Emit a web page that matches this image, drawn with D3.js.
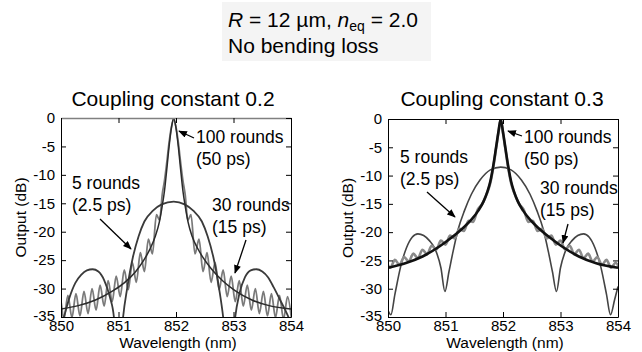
<!DOCTYPE html>
<html><head><meta charset="utf-8">
<script src="https://cdn.jsdelivr.net/npm/d3@7"></script>
<style>
html,body{margin:0;padding:0;background:#fff;}
svg{display:block;font-family:"Liberation Sans",Arial,Helvetica,sans-serif;}
</style></head>
<body><svg id="c" width="642" height="352"></svg>
<script>
// ---------- data ----------
const wavelengthTicks = [850, 851, 852, 853, 854];
const outputTicks = [0, -5, -10, -15, -20, -25, -30, -35];
const panelTitles = ["Coupling constant 0.2", "Coupling constant 0.3"];

// Coupling constant 0.2 : [wavelength nm, output dB]
const left5 = [[850.00,-36.5],[850.05,-35.0],[850.15,-31.5],[850.25,-29.0],[850.35,-27.6],[850.45,-26.8],[850.55,-26.6],[850.65,-27.0],[850.75,-28.5],[850.85,-31.5],[850.92,-35.0],[850.99,-48],[851.08,-35.0],[851.15,-30.0],[851.25,-24.5],[851.35,-20.8],[851.45,-18.2],[851.60,-16.3],[851.75,-15.2],[851.96,-14.7],[852.15,-15.2],[852.30,-16.3],[852.45,-18.2],[852.55,-20.8],[852.65,-24.5],[852.75,-30.0],[852.82,-35.0],[852.93,-48],[853.03,-35.0],[853.10,-31.0],[853.20,-28.0],[853.30,-26.8],[853.40,-26.6],[853.50,-27.0],[853.60,-28.0],[853.70,-29.8],[853.80,-31.8],[853.90,-33.8],[854.00,-36.0]];
const left30 = [[849.91,-35.5],[849.98,-31.4],[850.05,-35.4],[850.12,-31.2],[850.19,-35.1],[850.26,-30.9],[850.33,-34.8],[850.40,-30.5],[850.47,-34.4],[850.54,-30.0],[850.61,-33.8],[850.68,-29.4],[850.75,-33.1],[850.82,-28.6],[850.89,-32.3],[850.96,-27.8],[851.03,-31.4],[851.10,-26.7],[851.17,-30.2],[851.24,-25.4],[851.31,-28.9],[851.38,-23.7],[851.45,-27.0],[851.52,-21.3],[851.59,-23.9],[851.66,-17.0],[851.715,-18.0],[851.76,-13.5],[851.80,-11.0],[851.84,-7.8],[851.88,-4.3],[851.92,-1.6],[851.96,-0.3],[852.00,-1.6],[852.04,-4.3],[852.08,-7.8],[852.12,-11.0],[852.16,-13.5],[852.205,-18.0],[852.26,-17.0],[852.33,-23.9],[852.40,-21.3],[852.47,-27.0],[852.54,-23.7],[852.61,-28.9],[852.68,-25.4],[852.75,-30.2],[852.82,-26.7],[852.89,-31.4],[852.96,-27.8],[853.03,-32.3],[853.10,-28.6],[853.17,-33.1],[853.24,-29.4],[853.31,-33.8],[853.38,-30.0],[853.45,-34.4],[853.52,-30.5],[853.59,-34.8],[853.66,-30.9],[853.73,-35.1],[853.80,-31.2],[853.87,-35.4],[853.94,-31.4],[854.01,-35.5]];
const left100 = [[850.00,-33.6],[850.30,-33.0],[850.60,-32.0],[850.90,-30.4],[851.10,-29.0],[851.30,-27.0],[851.44,-25.0],[851.54,-23.2],[851.64,-20.8],[851.71,-18.3],[851.76,-15.5],[851.80,-12.8],[851.84,-9.0],[851.88,-5.0],[851.92,-1.8],[851.96,0],[852.00,-1.8],[852.04,-5.0],[852.08,-9.0],[852.12,-12.8],[852.16,-15.5],[852.21,-18.3],[852.28,-20.8],[852.38,-23.0],[852.48,-24.7],[852.62,-26.6],[852.82,-28.7],[853.02,-30.3],[853.32,-32.0],[853.62,-33.0],[854.00,-33.6]];

// Coupling constant 0.3
const right5 = [[850.00,-33.8],[850.05,-34.6],[850.12,-31.0],[850.22,-26.1],[850.32,-22.8],[850.42,-20.9],[850.52,-20.3],[850.62,-20.6],[850.72,-21.5],[850.82,-23.0],[850.92,-26.3],[850.99,-30.5],[851.06,-27.0],[851.13,-23.5],[851.22,-19.5],[851.33,-16.2],[851.45,-13.3],[851.60,-10.8],[851.78,-9.0],[851.96,-8.5],[852.14,-9.0],[852.32,-10.8],[852.47,-13.3],[852.59,-16.2],[852.70,-19.5],[852.79,-23.5],[852.86,-27.0],[852.93,-30.5],[853.00,-26.3],[853.10,-23.0],[853.20,-21.5],[853.30,-20.6],[853.40,-20.3],[853.50,-20.9],[853.60,-22.8],[853.70,-26.1],[853.80,-31.0],[853.87,-34.6],[853.94,-32.0],[854.00,-29.6]];
const right30 = [[849.88,-26.9],[849.96,-25.4],[850.04,-26.3],[850.12,-24.9],[850.20,-25.8],[850.28,-24.4],[850.36,-25.2],[850.44,-23.8],[850.52,-24.6],[850.60,-23.1],[850.68,-23.9],[850.76,-22.4],[850.84,-23.1],[850.92,-21.5],[851.00,-22.2],[851.08,-20.6],[851.16,-21.1],[851.24,-19.4],[851.32,-19.8],[851.40,-18.0],[851.48,-18.2],[851.56,-16.0],[851.64,-15.0],[851.72,-13.2],[851.78,-11.3],[851.83,-8.6],[851.88,-5.2],[851.92,-2.5],[851.96,-0.2],[852.00,-2.5],[852.04,-5.2],[852.09,-8.6],[852.14,-11.3],[852.20,-13.2],[852.28,-15.0],[852.36,-16.0],[852.44,-18.2],[852.52,-18.0],[852.60,-19.8],[852.68,-19.4],[852.76,-21.1],[852.84,-20.6],[852.92,-22.2],[853.00,-21.5],[853.08,-23.1],[853.16,-22.4],[853.24,-23.9],[853.32,-23.1],[853.40,-24.6],[853.48,-23.8],[853.56,-25.2],[853.64,-24.4],[853.72,-25.8],[853.80,-24.9],[853.88,-26.3],[853.96,-25.4],[854.04,-26.9]];
const right100 = [[850.00,-26.3],[850.30,-25.5],[850.60,-24.3],[850.90,-22.5],[851.10,-21.0],[851.30,-19.3],[851.45,-17.8],[851.57,-16.2],[851.66,-14.6],[851.73,-12.8],[851.78,-11.0],[851.83,-8.3],[851.88,-5.0],[851.92,-2.3],[851.96,0],[852.00,-2.3],[852.04,-5.0],[852.09,-8.3],[852.14,-11.0],[852.19,-12.8],[852.26,-14.6],[852.35,-16.2],[852.47,-17.8],[852.62,-19.3],[852.82,-21.0],[853.02,-22.5],[853.32,-24.3],[853.62,-25.5],[854.00,-26.3]];

// ---------- drawing ----------
const svg = d3.select("#c");
const FONT = '"Liberation Sans",Arial,Helvetica,sans-serif';
const plain = d => String(d);   // hyphen-minus like the reference

// header box
svg.append("rect").attr("x",222).attr("y",2).attr("width",209).attr("height",59).attr("fill","#f4f4f4");
const h1 = svg.append("text").attr("x",228).attr("y",27).attr("font-size",21).attr("fill","#000");
h1.append("tspan").attr("font-style","italic").text("R");
h1.append("tspan").text(" = 12 \u00b5m, ");
h1.append("tspan").attr("font-style","italic").text("n");
h1.append("tspan").attr("font-size",14).attr("dy",4).text("eq");
h1.append("tspan").attr("dy",-4).text(" = 2.0");
svg.append("text").attr("x",228).attr("y",53).attr("font-size",21).text("No bending loss");

// arrowhead marker
const defs = svg.append("defs");
defs.append("marker").attr("id","ah").attr("viewBox","0 0 10 8").attr("refX",9).attr("refY",4)
  .attr("markerWidth",9).attr("markerHeight",7).attr("markerUnits","userSpaceOnUse").attr("orient","auto")
  .append("path").attr("d","M0,0 L10,4 L0,8 Z").attr("fill","#000");

function panel(idx, cfg, series, notes) {
  const x = d3.scaleLinear().domain([850, 854]).range([cfg.x0, cfg.x1]);
  const y = d3.scaleLinear().domain([-35, 0]).range([cfg.y1, cfg.y0]);
  const g = svg.append("g");
  const cid = "clip" + idx;
  defs.append("clipPath").attr("id", cid).append("rect")
    .attr("x", cfg.x0).attr("y", cfg.y0).attr("width", cfg.x1 - cfg.x0).attr("height", cfg.y1 - cfg.y0);

  const line = d3.line().x(d => x(d[0])).y(d => y(d[1])).curve(d3.curveMonotoneX);
  const cg = g.append("g").attr("clip-path", `url(#${cid})`);
  series.forEach(s => {
    cg.append("path").datum(s.data).attr("d", line).attr("fill","none")
      .attr("stroke", s.color).attr("stroke-width", s.width).attr("stroke-linejoin","round");
  });

  // axes (ticks inward)
  const ax = (gen, tr) => {
    const a = g.append("g").attr("transform", tr).call(gen);
    a.select(".domain").attr("stroke", "#000");
    a.selectAll(".tick line").attr("stroke", "#000");
    a.selectAll("text").attr("font-family", FONT).attr("fill", "#000");
    return a;
  };
  const bottom = ax(d3.axisBottom(x).tickValues(wavelengthTicks).tickSize(-5).tickSizeOuter(0).tickPadding(3).tickFormat(plain),
    `translate(0,${cfg.y1})`);
  bottom.selectAll("text").attr("font-size", 15).attr("dy", "0.71em");
  const left = ax(d3.axisLeft(y).tickValues(outputTicks).tickSize(-5).tickSizeOuter(0).tickPadding(6).tickFormat(plain),
    `translate(${cfg.x0},0)`);
  left.selectAll("text").attr("font-size", 15);
  left.selectAll(".tick").filter(d => d === -35).select("text").attr("dy", "0.2em");
  const top = ax(d3.axisTop(x).tickValues(wavelengthTicks).tickSize(-5).tickSizeOuter(0).tickFormat(""),
    `translate(0,${cfg.y0})`);
  if (cfg.topColor) top.select(".domain").attr("stroke", cfg.topColor).attr("stroke-width", 1.6);
  ax(d3.axisRight(y).tickValues(outputTicks).tickSize(-5).tickSizeOuter(0).tickFormat(""),
    `translate(${cfg.x1},0)`);

  // labels
  svg.append("text").attr("x", cfg.titleX).attr("y", 106).attr("text-anchor","middle")
    .attr("font-size", 21).text(panelTitles[idx]);
  svg.append("text").attr("x", (cfg.x0 + cfg.x1) / 2 + 2).attr("y", 348).attr("text-anchor","middle")
    .attr("font-size", 15.5).text("Wavelength (nm)");
  svg.append("text").attr("transform", `translate(${cfg.yLabX},${(cfg.y0 + cfg.y1) / 2}) rotate(-90)`)
    .attr("text-anchor","middle").attr("font-size", 15.5).text("Output (dB)");

  notes.forEach(n => {
    svg.append("text").attr("x", n.x).attr("y", n.y).attr("font-size", 17.5).text(n.l1);
    svg.append("text").attr("x", n.x).attr("y", n.y + 22).attr("font-size", 17.5).text(n.l2);
    svg.append("line").attr("x1", n.a[0]).attr("y1", n.a[1]).attr("x2", n.a[2]).attr("y2", n.a[3])
      .attr("stroke","#000").attr("stroke-width",1.3).attr("marker-end","url(#ah)");
  });
}

panel(0, {x0:61, x1:291, y0:118, y1:317, titleX:173, yLabX:26, topColor:"#808080"},
  [ {data:left30, color:"#7a7a7a", width:1.8},
    {data:left5, color:"#3a3a3a", width:1.8},
    {data:left100, color:"#2a2a2a", width:1.5} ],
  [ {x:196, y:143, l1:"100 rounds", l2:"(50 ps)", a:[194,138,179,131]},
    {x:72, y:189, l1:"5 rounds", l2:"(2.5 ps)", a:[100,219,131,249]},
    {x:212, y:211, l1:"30 rounds", l2:"(15 ps)", a:[246,240,235,273]} ]);

panel(1, {x0:388, x1:618, y0:119, y1:317, titleX:502, yLabX:353},
  [ {data:right5, color:"#444", width:1.6},
    {data:right30, color:"#8a8a8a", width:2.6},
    {data:right100, color:"#111", width:2.6} ],
  [ {x:524, y:143, l1:"100 rounds", l2:"(50 ps)", a:[522,136,508,131]},
    {x:400, y:163, l1:"5 rounds", l2:"(2.5 ps)", a:[427,192,455,217]},
    {x:540, y:194, l1:"30 rounds", l2:"(15 ps)", a:[568,224,563,243]} ]);
</script></body></html>
